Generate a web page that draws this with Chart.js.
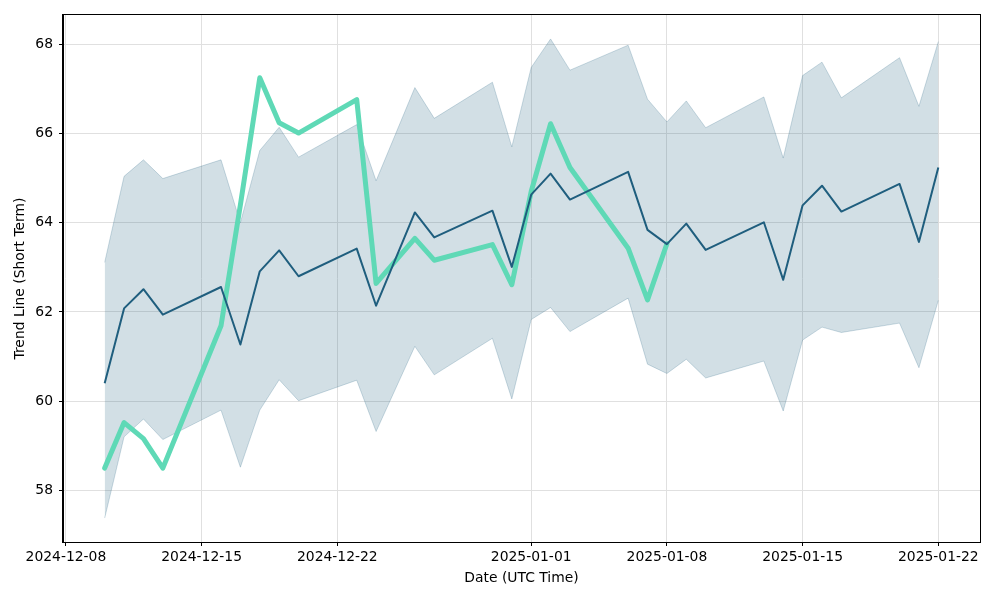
<!DOCTYPE html>
<html lang="en">
<head>
    <meta charset="utf-8">
    <title>Trend Line (Short Term)</title>
    <script src="https://cdn.jsdelivr.net/npm/chart.js@4.4.1/dist/chart.umd.min.js"></script>
    <style>
        body { margin: 0; padding: 0; background: #fff; }
        #chart-container { width: 1000px; height: 600px; }
    </style>
</head>
<body>
    <div id="chart-container">
        <canvas id="trendChart" width="1000" height="600"></canvas>
    </div>

    <script>
        // trading days
        const dates = [
            '2024-12-10', '2024-12-11', '2024-12-12', '2024-12-13', '2024-12-16',
            '2024-12-17', '2024-12-18', '2024-12-19', '2024-12-20', '2024-12-23',
            '2024-12-24', '2024-12-26', '2024-12-27', '2024-12-30', '2024-12-31',
            '2025-01-01', '2025-01-02', '2025-01-03', '2025-01-06', '2025-01-07',
            '2025-01-08', '2025-01-09', '2025-01-10', '2025-01-13', '2025-01-14',
            '2025-01-15', '2025-01-16', '2025-01-17', '2025-01-20', '2025-01-21',
            '2025-01-22'
        ];
        const trend = [60.40, 62.08, 62.51, 61.94, 62.56, 61.27, 62.91, 63.38, 62.80, 63.42,
            62.14, 64.23, 63.67, 64.27, 63.01, 64.63, 65.10, 64.52, 65.14, 63.84,
            63.52, 63.98, 63.39, 64.01, 62.72, 64.39, 64.83, 64.25, 64.87, 63.57, 65.24];
        const upper = [63.11, 65.04, 65.41, 64.99, 65.41, 64.00, 65.62, 66.14, 65.47, 66.20,
            64.94, 67.03, 66.34, 67.15, 65.70, 67.48, 68.12, 67.42, 67.98, 66.77,
            66.26, 66.73, 66.13, 66.82, 65.45, 67.30, 67.60, 66.80, 67.70, 66.61, 68.06];
        const lower = [57.38, 59.20, 59.60, 59.14, 59.80, 58.52, 59.80, 60.48, 60.01, 60.47,
            59.32, 61.23, 60.59, 61.41, 60.05, 61.83, 62.10, 61.56, 62.31, 60.83,
            60.62, 60.94, 60.52, 60.90, 59.78, 61.37, 61.66, 61.54, 61.75, 60.75, 62.26];
        // actual values, only up to 2025-01-08
        const actual = [58.50, 59.52, 59.16, 58.50, 61.69, 64.40, 67.25, 66.24, 66.01, 66.76,
            62.64, 63.65, 63.16, 63.51, 62.61, 64.70, 66.22, 65.24, 63.43, 62.27, 63.53];

        const xTickDates = ['2024-12-08', '2024-12-15', '2024-12-22', '2025-01-01',
            '2025-01-08', '2025-01-15', '2025-01-22'];
        const yTicks = [58, 60, 62, 64, 66, 68];

        const DAY = 86400000;
        const base = Date.parse('2024-12-08T00:00:00Z');
        const toX = d => (Date.parse(d + 'T00:00:00Z') - base) / DAY;
        const fmt = v => new Date(base + Math.round(v) * DAY).toISOString().slice(0, 10);
        const pts = (vals) => vals.map((v, i) => ({ x: toX(dates[i]), y: v }));

        // matplotlib-like 5% margins
        const xs = dates.map(toX);
        const xMin = Math.min(...xs), xMax = Math.max(...xs);
        const yLo = Math.min(...lower, ...actual), yHi = Math.max(...upper);
        const xm = (xMax - xMin) * 0.05, ym = (yHi - yLo) * 0.05;

        const DARK = '#1f5e7e';
        const GREEN = '#5fd9b6';
        const font = { family: 'DejaVu Sans', size: 13.9 };

        const frame = {
            id: 'frame',
            afterDraw(chart) {
                const { ctx, chartArea: a } = chart;
                ctx.save();
                ctx.strokeStyle = '#000';
                ctx.lineWidth = 1;
                ctx.strokeRect(Math.round(a.left) - 0.5, Math.round(a.top) - 0.5,
                    Math.round(a.right - a.left) + 1, Math.round(a.bottom - a.top) + 1);
                ctx.restore();
            }
        };

        new Chart(document.getElementById('trendChart'), {
            type: 'line',
            data: {
                datasets: [
                    {
                        label: 'upper',
                        data: pts(upper),
                        borderColor: 'rgba(31,94,126,0.22)',
                        borderWidth: 1,
                        backgroundColor: 'rgba(31,94,126,0.2)',
                        fill: '+1',
                        pointRadius: 0,
                        tension: 0,
                        order: 3
                    },
                    {
                        label: 'lower',
                        data: pts(lower),
                        borderColor: 'rgba(31,94,126,0.22)',
                        borderWidth: 1,
                        fill: false,
                        pointRadius: 0,
                        tension: 0,
                        order: 3
                    },
                    {
                        label: 'actual',
                        data: pts(actual),
                        borderColor: GREEN,
                        borderWidth: 5,
                        borderJoinStyle: 'round',
                        borderCapStyle: 'round',
                        fill: false,
                        pointRadius: 0,
                        tension: 0,
                        order: 2
                    },
                    {
                        label: 'trend',
                        data: pts(trend),
                        borderColor: DARK,
                        borderWidth: 2,
                        borderJoinStyle: 'round',
                        fill: false,
                        pointRadius: 0,
                        tension: 0,
                        order: 1
                    }
                ]
            },
            options: {
                responsive: false,
                animation: false,
                layout: { padding: { top: 15, right: 20, left: 0, bottom: 0 } },
                plugins: {
                    legend: { display: false },
                    tooltip: { enabled: false }
                },
                scales: {
                    x: {
                        type: 'linear',
                        min: xMin - xm,
                        max: xMax + xm,
                        afterBuildTicks: s => { s.ticks = xTickDates.map(d => ({ value: toX(d) })); },
                        afterFit: s => { s.height = 58; },
                        ticks: {
                            callback: v => fmt(v),
                            autoSkip: false,
                            maxRotation: 0,
                            padding: 3,
                            color: '#000',
                            font
                        },
                        grid: { color: '#e0e0e0', tickColor: '#000', tickLength: 4 },
                        border: { color: '#000' },
                        title: {
                            display: true,
                            text: 'Date (UTC Time)',
                            color: '#000',
                            font,
                            padding: { top: 0, bottom: 13 }
                        }
                    },
                    y: {
                        min: yLo - ym,
                        max: yHi + ym,
                        afterBuildTicks: s => { s.ticks = yTicks.map(v => ({ value: v })); },
                        afterFit: s => { s.width = 63; },
                        ticks: { padding: 6, color: '#000', font },
                        grid: { color: '#e0e0e0', tickColor: '#000', tickLength: 4 },
                        border: { color: '#000' },
                        title: {
                            display: true,
                            text: 'Trend Line (Short Term)',
                            color: '#000',
                            font,
                            padding: { top: 12, bottom: 0 }
                        }
                    }
                }
            },
            plugins: [frame]
        });
    </script>
</body>
</html>
